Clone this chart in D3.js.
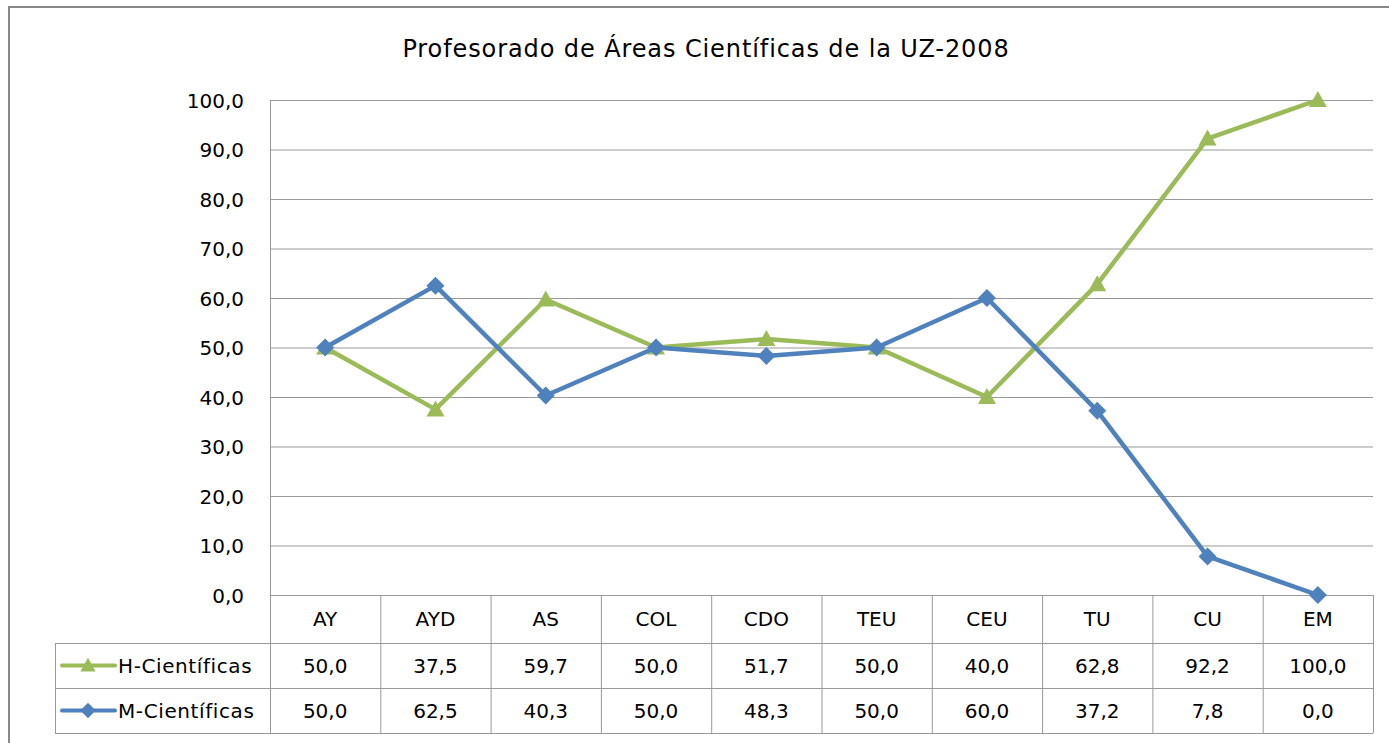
<!DOCTYPE html>
<html>
  <head>
    <meta charset="utf-8">
    <script type="text/javascript" src="https://cdn.jsdelivr.net/npm/d3@7"></script>
    <style>
      body { margin: 0; background: #fff; }
      text { font-family: "DejaVu Sans", sans-serif; fill: #000; }
    </style>
  </head>
  <body>
    <script type="text/javascript">

var categories = ["AY", "AYD", "AS", "COL", "CDO", "TEU", "CEU", "TU", "CU", "EM"];
var hValues = [50.0, 37.5, 59.7, 50.0, 51.7, 50.0, 40.0, 62.8, 92.2, 100.0];
var mValues = [50.0, 62.5, 40.3, 50.0, 48.3, 50.0, 60.0, 37.2, 7.8, 0.0];
var yTicks = [0, 10, 20, 30, 40, 50, 60, 70, 80, 90, 100];
var seriesNames = ["H-Científicas", "M-Científicas"];
var title = "Profesorado de Áreas Científicas de la UZ-2008";

var w = 1389;
var h = 743;
var plotL = 270, plotR = 1373, plotT = 100, plotB = 595;
var rowH = [48, 45, 45];
var legendLeft = 55;
var green = "#9BBB59", blue = "#4F81BD", grid = "#999";

var fmt = function(v) { return v.toFixed(1).replace(".", ","); };

// marker outlines
var triangle = "M0,-9L9,7L-9,7Z";
var diamond = "M0,-9L9,0L0,9L-9,0Z";

var svg = d3.select("body").append("svg")
    .attr("width", w)
    .attr("height", h);

// outer frame
svg.append("rect")
    .attr("x", 9).attr("y", 7)
    .attr("width", w + 10).attr("height", h + 10)
    .style("fill", "none").style("stroke", "#888").style("stroke-width", 2);

svg.append("text")
    .attr("x", 706).attr("y", 57)
    .attr("text-anchor", "middle")
    .style("font-size", "24px")
    .style("letter-spacing", "0.9px")
    .text(title);

var x = d3.scaleBand().domain(categories).range([plotL, plotR]);
var y = d3.scaleLinear().domain([0, 100]).range([plotB, plotT]);

// gridlines
svg.selectAll("line.grid")
    .data(yTicks)
    .enter().append("line")
    .attr("class", "grid")
    .attr("x1", plotL).attr("x2", plotR)
    .attr("y1", function(d) { return y(d) + 0.5; })
    .attr("y2", function(d) { return y(d) + 0.5; })
    .style("stroke", grid).style("stroke-width", 1);

svg.append("line")
    .attr("x1", plotL + 0.5).attr("x2", plotL + 0.5)
    .attr("y1", plotT).attr("y2", plotB)
    .style("stroke", grid);

var yAxis = svg.append("g")
    .attr("transform", "translate(" + (plotL - 26) + ",0)")
    .call(d3.axisLeft(y).tickValues(yTicks).tickSize(0).tickPadding(0).tickFormat(fmt));
yAxis.select(".domain").remove();
yAxis.selectAll("text")
    .style("font-size", "20px")
    .style("font-family", "\"DejaVu Sans\", sans-serif")
    .attr("dy", "0.35em");

// data table
var row0 = plotB, row1 = plotB + rowH[0], row2 = row1 + rowH[1], row3 = row2 + rowH[2];
var tbl = svg.append("g").style("stroke", grid).style("stroke-width", 1);
tbl.append("line").attr("x1", plotL).attr("x2", plotR).attr("y1", row0 + 0.5).attr("y2", row0 + 0.5);
[row1, row2, row3].forEach(function(r) {
  tbl.append("line").attr("x1", legendLeft).attr("x2", plotR).attr("y1", r + 0.5).attr("y2", r + 0.5);
});
tbl.append("line").attr("x1", legendLeft + 0.5).attr("x2", legendLeft + 0.5).attr("y1", row1).attr("y2", row3);
categories.concat(["__end"]).forEach(function(c, i) {
  var xx = i < categories.length ? x(c) : plotR;
  tbl.append("line").attr("x1", xx + 0.5).attr("x2", xx + 0.5).attr("y1", row0).attr("y2", row3);
});

svg.selectAll("text.cat")
    .data(categories)
    .enter().append("text")
    .attr("class", "cat")
    .attr("x", function(d) { return x(d) + x.bandwidth() / 2; })
    .attr("y", (row0 + row1) / 2 + 7)
    .attr("text-anchor", "middle")
    .style("font-size", "20px")
    .text(function(d) { return d; });

var series = [
  { name: seriesNames[0], values: hValues, color: green, shape: triangle },
  { name: seriesNames[1], values: mValues, color: blue, shape: diamond }
];

series.forEach(function(s, si) {
  var ry = si === 0 ? (row1 + row2) / 2 : (row2 + row3) / 2;
  svg.selectAll("text.val" + si)
      .data(s.values)
      .enter().append("text")
      .attr("x", function(d, i) { return x(categories[i]) + x.bandwidth() / 2; })
      .attr("y", ry + 7)
      .attr("text-anchor", "middle")
      .style("font-size", "20px")
      .text(fmt);

  // legend key
  svg.append("line")
      .attr("x1", 62).attr("x2", 115).attr("y1", ry).attr("y2", ry)
      .style("stroke", s.color).style("stroke-width", 4).style("stroke-linecap", "round");
  svg.append("path")
      .attr("d", s.shape)
      .attr("transform", "translate(88," + ry + ") scale(0.85)")
      .style("fill", s.color);
  svg.append("text")
      .attr("x", 118).attr("y", ry + 7)
      .style("font-size", "20px")
      .style("letter-spacing", "0.6px")
      .text(s.name);

  var line = d3.line()
      .x(function(d, i) { return x(categories[i]) + x.bandwidth() / 2; })
      .y(function(d) { return y(d); });

  svg.append("path")
      .datum(s.values)
      .attr("d", line)
      .style("fill", "none")
      .style("stroke", s.color)
      .style("stroke-width", 4.5)
      .style("stroke-linejoin", "round");

  svg.selectAll("path.mk" + si)
      .data(s.values)
      .enter().append("path")
      .attr("class", "mk" + si)
      .attr("d", s.shape)
      .attr("transform", function(d, i) {
        return "translate(" + (x(categories[i]) + x.bandwidth() / 2) + "," + y(d) + ")";
      })
      .style("fill", s.color);
});

    </script>
  </body>
</html>
